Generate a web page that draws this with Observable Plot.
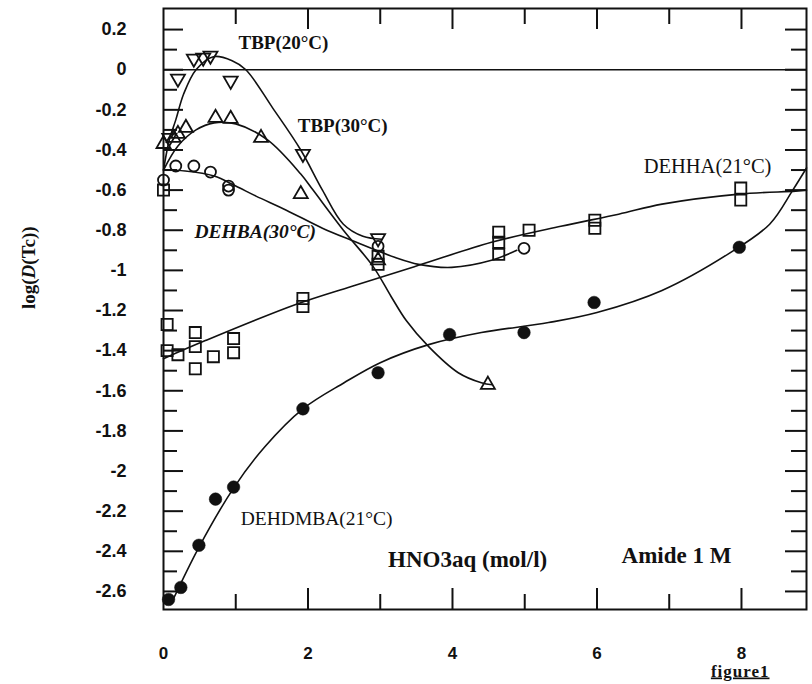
<!DOCTYPE html>
<html><head><meta charset="utf-8">
<script src="https://cdn.jsdelivr.net/npm/d3@7"></script>
<script src="https://cdn.jsdelivr.net/npm/@observablehq/plot@0.6"></script>
<style>
body{margin:0;background:#fff;}
#chart svg{display:block;}
</style></head>
<body><div id="chart"></div>
<script>
// ---- data ----
const tbp20X = [0.08, 0.2, 0.42, 0.55, 0.65, 0.93, 1.93, 2.97];
const tbp20Y = [-0.34, -0.045, 0.055, 0.06, 0.07, -0.055, -0.42, -0.84];
const tbp20CurveX = [0, 0.08, 0.17, 0.28, 0.45, 0.69, 0.95, 1.14, 1.51, 1.9, 2.2, 2.49, 2.76, 3.02];
const tbp20CurveY = [-0.5, -0.35, -0.25, -0.12, 0.0, 0.065, 0.045, 0.0, -0.19, -0.40, -0.60, -0.77, -0.83, -0.845];

const tbp30X = [0.0, 0.14, 0.2, 0.31, 0.72, 0.93, 1.35, 1.9, 2.97, 4.49];
const tbp30Y = [-0.37, -0.34, -0.32, -0.29, -0.24, -0.245, -0.34, -0.62, -0.95, -1.57];
const tbp30CurveX = [0, 0.2, 0.45, 0.7, 1.0, 1.44, 1.9, 2.07, 2.49, 2.9, 3.15, 3.36, 3.67, 4.08, 4.4, 4.55];
const tbp30CurveY = [-0.5, -0.38, -0.3, -0.265, -0.27, -0.35, -0.52, -0.6, -0.8, -0.98, -1.13, -1.25, -1.38, -1.51, -1.56, -1.57];

const dehbaX = [0.0, 0.17, 0.42, 0.65, 0.9, 0.9, 2.97, 4.99];
const dehbaY = [-0.55, -0.48, -0.48, -0.51, -0.58, -0.60, -0.88, -0.89];
const dehbaCurveX = [0, 0.3, 0.7, 1.0, 1.28, 1.7, 2.2, 2.6, 3.2, 3.53, 3.99, 4.54, 4.89];
const dehbaCurveY = [-0.5, -0.505, -0.53, -0.58, -0.63, -0.70, -0.79, -0.85, -0.935, -0.97, -0.985, -0.95, -0.9];

const dehhaX = [0.0, 0.05, 0.05, 0.2, 0.44, 0.44, 0.44, 0.69, 0.97, 0.97, 1.93, 1.93, 2.97, 2.97, 4.64, 4.64, 4.64, 5.06, 5.97, 5.97, 7.99, 7.99];
const dehhaY = [-0.6, -1.27, -1.40, -1.42, -1.31, -1.38, -1.49, -1.43, -1.34, -1.41, -1.14, -1.18, -0.93, -0.97, -0.81, -0.86, -0.92, -0.80, -0.75, -0.79, -0.59, -0.65];
const dehhaCurveX = [0, 0.58, 1.83, 2.6, 3.53, 4.54, 5.5, 6.3, 6.9, 7.97, 8.75, 8.9];
const dehhaCurveY = [-1.44, -1.35, -1.17, -1.08, -0.975, -0.86, -0.78, -0.72, -0.67, -0.62, -0.605, -0.6];

const dehdmbaX = [0.07, 0.24, 0.49, 0.72, 0.97, 1.93, 2.97, 3.96, 4.99, 5.96, 7.97];
const dehdmbaY = [-2.64, -2.58, -2.37, -2.14, -2.08, -1.69, -1.51, -1.32, -1.31, -1.16, -0.885];
const dehdmbaCurveX = [0.12, 0.49, 0.97, 1.4, 1.93, 2.5, 3.0, 3.67, 4.4, 5.33, 6.0, 6.9, 7.83, 8.39, 8.71, 8.9];
const dehdmbaCurveY = [-2.65, -2.38, -2.085, -1.88, -1.69, -1.56, -1.46, -1.37, -1.31, -1.26, -1.21, -1.10, -0.915, -0.77, -0.60, -0.49];

const xLabelTicks = [0, 2, 4, 6, 8];
const xMajorTicks = [2, 4, 6, 8];
const xMinorTicks = [1, 3, 5, 7];
const yLabelTicks = [0.2, 0, -0.2, -0.4, -0.6, -0.8, -1, -1.2, -1.4, -1.6, -1.8, -2, -2.2, -2.4, -2.6];
const yMinorTicks = [0.1, -0.1, -0.3, -0.5, -0.7, -0.9, -1.1, -1.3, -1.5, -1.7, -1.9, -2.1, -2.3, -2.5];

const labelTexts = ["TBP(20°C)", "TBP(30°C)", "DEHBA(30°C)", "DEHHA(21°C)", "DEHDMBA(21°C)", "HNO3aq (mol/l)", "Amide 1 M"];
const labelX = [1.66, 2.48, 1.27, 7.53, 2.12, 4.21, 7.10];
const labelY = [0.135, -0.28, -0.81, -0.48, -2.24, -2.44, -2.42];
const yAxisTitle = "log(D(Tc))";
const figureCaption = "figure1";

// ---- build ----
const pts = (xs, ys) => xs.map((x, i) => ({x, y: ys[i]}));
const lbl = i => [{x: labelX[i], y: labelY[i], t: labelTexts[i]}];
const ink = "#111";
const fmt = d => String(+d.toFixed(1));
const serif = "Liberation Serif, Times New Roman, serif";

const curve = (xs, ys) => Plot.line(pts(xs, ys), {x: "x", y: "y", curve: "catmull-rom", stroke: ink, strokeWidth: 1.6});
const textMark = (i, o) => Plot.text(lbl(i), {x: "x", y: "y", text: "t", fill: ink, fontFamily: serif, ...o});

const chart = Plot.plot({
  width: 812,
  height: 684,
  marginLeft: 163,
  marginRight: 6,
  marginTop: 8,
  marginBottom: 75,
  style: {fontFamily: "Liberation Sans, Arial, sans-serif", background: "#fff", color: ink},
  x: {domain: [0, 8.9]},
  y: {domain: [-2.69, 0.305]},
  marks: [
    Plot.frame({stroke: ink, strokeWidth: 2}),
    Plot.ruleY([0], {stroke: ink, strokeWidth: 1.5}),
    // inward ticks
    Plot.axisX(xMajorTicks, {anchor: "bottom", tickSize: -21, fill: "none", strokeWidth: 2, label: null}),
    Plot.axisX(xMinorTicks, {anchor: "bottom", tickSize: -15, fill: "none", strokeWidth: 2, label: null}),
    Plot.axisX(xMajorTicks, {anchor: "top", tickSize: -20, fill: "none", strokeWidth: 2, label: null}),
    Plot.axisX(xMinorTicks, {anchor: "top", tickSize: -15, fill: "none", strokeWidth: 2, label: null}),
    Plot.axisY(yLabelTicks, {anchor: "left", tickSize: -20, fill: "none", strokeWidth: 2, label: null}),
    Plot.axisY(yMinorTicks, {anchor: "left", tickSize: -14, fill: "none", strokeWidth: 2, label: null}),
    Plot.axisY(yLabelTicks, {anchor: "right", tickSize: -22, fill: "none", strokeWidth: 2, label: null}),
    Plot.axisY(yMinorTicks, {anchor: "right", tickSize: -16, fill: "none", strokeWidth: 2, label: null}),
    // tick labels
    Plot.axisX(xLabelTicks, {anchor: "bottom", tickSize: 0, tickPadding: 37, fontSize: 17, fontWeight: "bold", tickFormat: fmt, label: null}),
    Plot.axisY(yLabelTicks, {anchor: "left", tickSize: 0, tickPadding: 37, fontSize: 18, fontWeight: "bold", tickFormat: fmt, label: null}),
    // curves
    curve(tbp20CurveX, tbp20CurveY),
    curve(tbp30CurveX, tbp30CurveY),
    curve(dehbaCurveX, dehbaCurveY),
    curve(dehhaCurveX, dehhaCurveY),
    curve(dehdmbaCurveX, dehdmbaCurveY),
    // markers
    Plot.dot(pts(tbp20X, tbp20Y), {x: "x", y: "y", symbol: "triangle", rotate: 180, r: 5.2, fill: "#fff", fillOpacity: 0, stroke: ink, strokeWidth: 1.8}),
    Plot.dot(pts(tbp30X, tbp30Y), {x: "x", y: "y", symbol: "triangle", r: 5.2, fill: "#fff", fillOpacity: 0, stroke: ink, strokeWidth: 1.8}),
    Plot.dot(pts(dehbaX, dehbaY), {x: "x", y: "y", symbol: "circle", r: 5.5, fill: "#fff", fillOpacity: 0, stroke: ink, strokeWidth: 1.8}),
    Plot.dot(pts(dehhaX, dehhaY), {x: "x", y: "y", symbol: "square", r: 6.3, fill: "#fff", fillOpacity: 0, stroke: ink, strokeWidth: 1.8}),
    Plot.dot(pts(dehdmbaX, dehdmbaY), {x: "x", y: "y", symbol: "circle", r: 6.3, fill: ink, stroke: ink, strokeWidth: 0.5}),
    // labels
    textMark(0, {fontSize: 19, fontWeight: "bold"}),
    textMark(1, {fontSize: 19, fontWeight: "bold"}),
    textMark(2, {fontSize: 19.5, fontWeight: "bold", fontStyle: "italic"}),
    textMark(3, {fontSize: 20.5}),
    textMark(4, {fontSize: 19.5}),
    textMark(5, {fontSize: 23, fontWeight: "bold"}),
    textMark(6, {fontSize: 23, fontWeight: "bold"}),
    Plot.text([yAxisTitle], {text: d => d, frameAnchor: "left", rotate: -90, dx: -135, fontSize: 19, fontWeight: "bold", fontFamily: serif, fill: ink, className: "ytitle"}),
    Plot.text([figureCaption], {text: d => d, frameAnchor: "bottom-right", textAnchor: "end", dx: -37, dy: 67, fontSize: 17, fontWeight: "bold", fontFamily: serif, fill: ink, className: "figcap"})
  ]
});
document.getElementById("chart").appendChild(chart);
// italic D in the axis title
const t = chart.querySelector(".ytitle text");
if (t) {
  t.textContent = "";
  const parts = [["log(", null], ["D", "italic"], ["(Tc))", null]];
  for (const [s, st] of parts) {
    const ts = document.createElementNS("http://www.w3.org/2000/svg", "tspan");
    ts.textContent = s;
    if (st) ts.setAttribute("font-style", st);
    t.appendChild(ts);
  }
}
const c = chart.querySelector(".figcap text");
if (c) { c.setAttribute("text-decoration", "underline"); c.setAttribute("letter-spacing", "1"); }
</script>
</body></html>
